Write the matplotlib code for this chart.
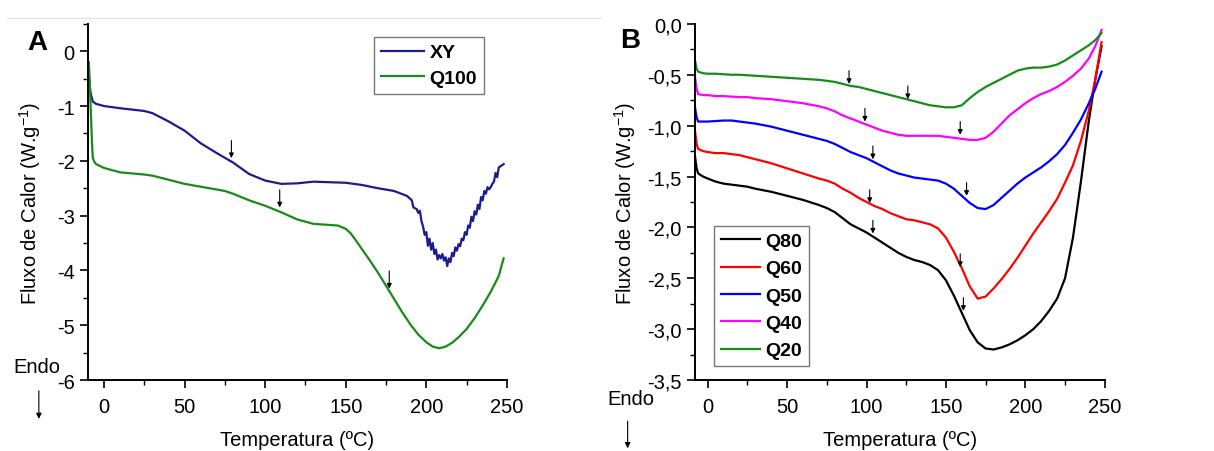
import matplotlib
matplotlib.use("Agg")
import matplotlib.pyplot as plt
from matplotlib.ticker import MultipleLocator, FuncFormatter
from matplotlib.lines import Line2D
from matplotlib.patches import FancyArrowPatch

plt.rcParams['font.family'] = ['Liberation Sans', 'DejaVu Sans']

# ---- Painel A ----
xy_t = [-9.5, -8.5, -7, -5, 0, 10, 25, 30, 40, 50, 60, 70, 80, 90, 100, 110, 120, 130,
        140, 150, 160, 170, 180, 188, 191, 192, 194, 195, 196, 197, 198, 199, 200, 201,
        202, 203, 204, 205, 206, 207, 208, 209, 210, 211, 212, 213, 214, 215, 216, 217,
        218, 219, 220, 221, 222, 223, 224, 225, 226, 227, 228, 229, 230, 231, 232, 233,
        234, 235, 236, 237, 238, 239, 240, 241, 242, 243, 244, 245, 246, 248]
xy_f = [-0.45, -0.75, -0.92, -0.96, -1.0, -1.04, -1.09, -1.13, -1.28, -1.45, -1.68, -1.86,
        -2.03, -2.24, -2.36, -2.42, -2.41, -2.38, -2.39, -2.40, -2.44, -2.50, -2.55, -2.64,
        -2.72, -2.85, -2.88, -2.95, -2.91, -3.10, -3.20, -3.35, -3.30, -3.55, -3.42, -3.62,
        -3.50, -3.70, -3.62, -3.80, -3.72, -3.78, -3.70, -3.82, -3.76, -3.92, -3.78, -3.85,
        -3.68, -3.74, -3.58, -3.64, -3.52, -3.56, -3.42, -3.45, -3.30, -3.35, -3.18, -3.22,
        -3.02, -3.10, -2.92, -2.98, -2.80, -2.88, -2.66, -2.72, -2.55, -2.60, -2.48, -2.52,
        -2.48, -2.42, -2.38, -2.22, -2.30, -2.12, -2.10, -2.06]
q100_t = [-9.5, -9, -8.5, -8, -7.5, -7, -6, -5, 0, 10, 25, 30, 50, 75, 80, 90, 100, 110, 120,
          130, 140, 145, 150, 153, 156, 160, 165, 170, 175, 180, 185, 190, 195, 200, 204,
          208, 212, 216, 220, 225, 230, 235, 240, 245, 248]
q100_f = [-0.2, -0.5, -0.9, -1.3, -1.7, -1.95, -2.02, -2.06, -2.13, -2.21, -2.25, -2.27,
          -2.42, -2.55, -2.60, -2.72, -2.82, -2.94, -3.07, -3.15, -3.17, -3.18, -3.24,
          -3.32, -3.44, -3.61, -3.82, -4.04, -4.28, -4.52, -4.76, -4.98, -5.17, -5.31,
          -5.39, -5.42, -5.39, -5.32, -5.22, -5.07, -4.87, -4.64, -4.39, -4.10, -3.78]
setas_a_x = [79, 109, 177]
setas_a_y = [-1.95, -2.85, -4.33]

# ---- Painel B ----
t_b = [-8, -7, -6, -3, 0, 5, 10, 15, 20, 25, 30, 40, 50, 60, 70, 75, 80, 85, 90, 95, 100,
       105, 110, 115, 120, 125, 130, 135, 140, 145, 150, 155, 160, 165, 170, 175, 180, 185,
       190, 195, 200, 205, 210, 215, 220, 225, 230, 235, 240, 244, 248]
q80 = [-1.30, -1.42, -1.47, -1.50, -1.52, -1.55, -1.57, -1.58, -1.59, -1.60, -1.62, -1.65,
       -1.69, -1.73, -1.78, -1.81, -1.85, -1.91, -1.97, -2.01, -2.05, -2.10, -2.15, -2.20,
       -2.25, -2.29, -2.32, -2.34, -2.37, -2.42, -2.52, -2.67, -2.84, -3.01, -3.13, -3.19,
       -3.20, -3.18, -3.15, -3.11, -3.06, -3.00, -2.92, -2.82, -2.70, -2.50, -2.10, -1.55,
       -0.95, -0.55, -0.22]
q60 = [-1.05, -1.18, -1.23, -1.25, -1.26, -1.27, -1.27, -1.28, -1.29, -1.31, -1.33, -1.37,
       -1.42, -1.47, -1.52, -1.54, -1.57, -1.62, -1.66, -1.71, -1.75, -1.79, -1.82, -1.86,
       -1.89, -1.92, -1.93, -1.95, -1.97, -2.01, -2.10, -2.24, -2.40, -2.58, -2.70, -2.68,
       -2.60, -2.51, -2.41, -2.30, -2.18, -2.06, -1.95, -1.84, -1.72, -1.56, -1.39, -1.15,
       -0.85, -0.55, -0.18]
q50 = [-0.82, -0.92, -0.96, -0.96, -0.96, -0.955, -0.95, -0.95, -0.96, -0.97, -0.98, -1.01,
       -1.05, -1.09, -1.13, -1.15, -1.18, -1.22, -1.26, -1.29, -1.32, -1.36, -1.40, -1.44,
       -1.47, -1.49, -1.51, -1.52, -1.53, -1.54, -1.57, -1.62, -1.69, -1.76, -1.81, -1.82,
       -1.78, -1.71, -1.64, -1.57, -1.51, -1.46, -1.41, -1.35, -1.28, -1.19, -1.07, -0.94,
       -0.78, -0.64, -0.47]
q40 = [-0.52, -0.64, -0.69, -0.70, -0.70, -0.71, -0.71, -0.715, -0.72, -0.72, -0.73, -0.74,
       -0.76, -0.78, -0.81, -0.83, -0.86, -0.90, -0.93, -0.96, -0.99, -1.02, -1.05, -1.07,
       -1.09, -1.10, -1.10, -1.10, -1.10, -1.10, -1.11, -1.12, -1.13, -1.14, -1.14, -1.12,
       -1.06, -0.98, -0.90, -0.84, -0.78, -0.73, -0.69, -0.66, -0.62, -0.57, -0.51, -0.44,
       -0.34, -0.22, -0.06]
q20 = [-0.36, -0.44, -0.47, -0.485, -0.49, -0.49, -0.495, -0.50, -0.50, -0.505, -0.51,
       -0.52, -0.53, -0.54, -0.55, -0.56, -0.57, -0.59, -0.61, -0.62, -0.64, -0.66, -0.68,
       -0.70, -0.72, -0.74, -0.76, -0.78, -0.80, -0.81, -0.82, -0.82, -0.80, -0.73, -0.67,
       -0.62, -0.58, -0.54, -0.50, -0.46, -0.44, -0.43, -0.43, -0.42, -0.40, -0.36, -0.31,
       -0.26, -0.21, -0.16, -0.09]
setas_b_x = [89, 126, 99, 159, 104, 163, 102, 159, 104, 161]
setas_b_y = [-0.59, -0.74, -0.96, -1.09, -1.33, -1.69, -1.76, -2.39, -2.06, -2.82]

fig = plt.figure(figsize=(12.14, 4.52), dpi=100)
ax_a = fig.add_axes([0.0725, 0.157, 0.345, 0.788])
ax_b = fig.add_axes([0.5725, 0.157, 0.3375, 0.788])

ax_a.plot(xy_t, xy_f, color='#1c1c8c', lw=1.6, label='XY')
ax_a.plot(q100_t, q100_f, color='#1a8a1a', lw=1.6, label='Q100')

cores_b = ['black', '#ff0000', '#0000ff', '#ff00ff', '#1a8a1a']
nomes_b = ['Q80', 'Q60', 'Q50', 'Q40', 'Q20']
for serie, cor, nome in zip([q80, q60, q50, q40, q20], cores_b, nomes_b):
    ax_b.plot(t_b, serie, color=cor, lw=1.6, label=nome)


def seta(ax, x, y, comp):
    ax.annotate('', xy=(x, y), xytext=(x, y + comp),
                arrowprops=dict(arrowstyle='-|>', color='black', lw=0.8,
                                mutation_scale=7, shrinkA=0, shrinkB=0))


for x, y in zip(setas_a_x, setas_a_y):
    seta(ax_a, x, y, 0.32)
for x, y in zip(setas_b_x, setas_b_y):
    seta(ax_b, x, y, 0.13)

ax_a.set_xlim(-10, 250)
ax_a.set_ylim(-6, 0.5)
ax_b.set_xlim(-8, 250)
ax_b.set_ylim(-3.5, 0)

ax_a.yaxis.set_major_locator(MultipleLocator(1))
ax_a.yaxis.set_minor_locator(MultipleLocator(0.5))
ax_a.yaxis.set_major_formatter(FuncFormatter(lambda v, p: '%d' % round(v)))
ax_b.yaxis.set_major_locator(MultipleLocator(0.5))
ax_b.yaxis.set_minor_locator(MultipleLocator(0.25))
ax_b.yaxis.set_major_formatter(FuncFormatter(lambda v, p: ('%.1f' % v).replace('.', ',')))

for ax, ypad in ((ax_a, 10), (ax_b, 7)):
    ax.xaxis.set_major_locator(MultipleLocator(50))
    ax.xaxis.set_minor_locator(MultipleLocator(25))
    ax.xaxis.set_major_formatter(FuncFormatter(lambda v, p: '%d' % round(v)))
    ax.spines['top'].set_visible(False)
    ax.spines['right'].set_visible(False)
    ax.spines['left'].set_linewidth(1.4)
    ax.spines['bottom'].set_linewidth(1.4)
    ax.tick_params(which='major', direction='out', length=6, width=1.2, labelsize=14.5)
    ax.tick_params(axis='x', which='major', pad=6)
    ax.tick_params(which='minor', direction='out', length=3.5, width=1.0)
    ax.set_xlabel('Temperatura (ºC)', fontsize=14.5, labelpad=10)
    ax.set_ylabel('Fluxo de Calor (W.g$^{\\mathregular{-1}}$)', fontsize=14.5, labelpad=ypad)

leg_a = ax_a.legend(loc='upper right', bbox_to_anchor=(0.945, 0.963), borderaxespad=0,
                    fancybox=False, edgecolor='#555555', prop={'weight': 'bold', 'size': 14},
                    handlelength=2.2, labelspacing=0.4, handletextpad=0.3,
                    borderpad=0.35)
leg_a.get_frame().set_linewidth(1.0)
leg_b = ax_b.legend(loc='lower left', bbox_to_anchor=(0.046, 0.039), borderaxespad=0,
                    fancybox=False, edgecolor='#555555', prop={'weight': 'bold', 'size': 14},
                    handlelength=2.0, labelspacing=0.5, handletextpad=0.3,
                    borderpad=0.35)
leg_b.get_frame().set_linewidth(1.0)

fig.text(0.031, 0.905, 'A', fontsize=20, fontweight='bold', ha='center', va='center')
fig.text(0.519, 0.91, 'B', fontsize=20, fontweight='bold', ha='center', va='center')

# Endo
fig.text(0.030, 0.186, 'Endo', fontsize=14.5, ha='center', va='center')
fig.text(0.520, 0.117, 'Endo', fontsize=14.5, ha='center', va='center')
for xf, y0, y1 in [(0.032, 0.133, 0.071), (0.517, 0.066, 0.006)]:
    fig.add_artist(FancyArrowPatch((xf, y0), (xf, y1), transform=fig.transFigure,
                                   arrowstyle='-|>', mutation_scale=8, shrinkA=0, shrinkB=0,
                                   color='black', lw=0.8))

fig.add_artist(Line2D([0.006, 0.495], [0.958, 0.958], color='#e4e4e4', lw=0.8))

fig.savefig('out.png', dpi=100)
